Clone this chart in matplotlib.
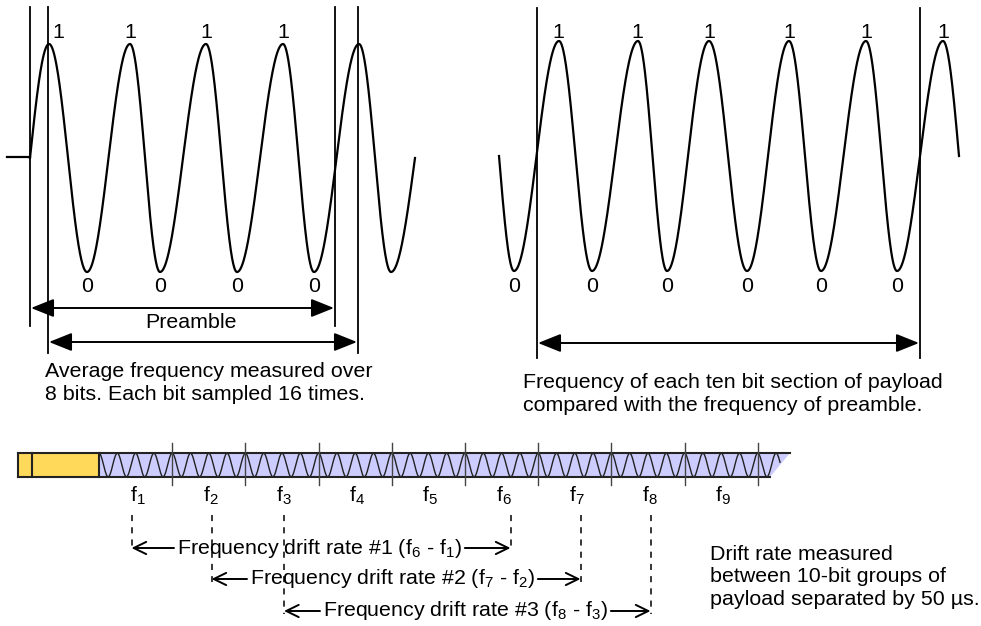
import numpy as np
import matplotlib
matplotlib.use("Agg")
import matplotlib.pyplot as plt
from matplotlib.patches import Polygon, Rectangle

plt.rcParams['font.family'] = ['Liberation Sans', 'DejaVu Sans']
plt.rcParams['mathtext.fontset'] = 'custom'
plt.rcParams['mathtext.rm'] = 'Liberation Sans'
plt.rcParams['mathtext.it'] = 'Liberation Sans:italic'

FS = 15.4

# ---------------- data (diagram anchors, pixel-like units) ----------------
# Preamble waveform (left)
left_peaks = [49, 130, 206, 283, 359]
left_troughs = [87, 160, 237, 314, 391]
left_span = [30, 415]
left_level = [158, 114]           # centre, amplitude
left_one_x = [58, 130, 206, 283]
left_zero_x = [87, 160, 237, 314]

# Payload waveform (right)
right_peaks = [559, 638, 709, 789, 866, 943]
right_troughs = [514, 592, 667, 747, 821, 897]
right_span = [499, 959]
right_level = [156, 115]
right_one_x = [558, 637, 709, 789, 866, 943]
right_zero_x = [514, 592, 667, 747, 821, 897]

# Packet bar
bar_labels = ['1', '2', '3', '4', '5', '6', '7', '8', '9']
bar_cycles_per_group = 4

# Drift-rate pairs (later group, earlier group) and their guide positions
drift_pairs = [(6, 1), (7, 2), (8, 3)]
drift_left_x = [131.5, 211.5, 284]
drift_right_x = [510.5, 580.5, 650.5]
drift_row_y = [548, 579, 611]

left_text = "Average frequency measured over\n8 bits. Each bit sampled 16 times."
right_text = "Frequency of each ten bit section of payload\ncompared with the frequency of preamble."
drift_note = "Drift rate measured\nbetween 10-bit groups of\npayload separated by 50 \u00b5s."

# ---------------- figure ----------------
fig = plt.figure(figsize=(9.81, 6.26), dpi=100)
ax = fig.add_axes([0, 0, 1, 1])
ax.set_xlim(0, 981)
ax.set_ylim(626, 0)
ax.axis('off')

LW = 1.6


def wave(peaks, troughs, span, level):
    ext = sorted([(p, 1) for p in peaks] + [(t, -1) for t in troughs])
    p0 = np.pi / 2 if ext[0][1] == 1 else -np.pi / 2
    xs = [span[0]] + [e[0] for e in ext] + [span[1]]
    ph = [p0 - np.pi / 2] + [p0 + k * np.pi for k in range(len(ext))] + \
         [p0 + (len(ext) - 1) * np.pi + np.pi / 2]
    x = np.linspace(span[0], span[1], 1500)
    phase = np.interp(x, xs, ph)
    return x, level[0] - level[1] * np.sin(phase)


# left waveform
x, y = wave(left_peaks, left_troughs, left_span, left_level)
ax.plot(x, y, color='black', lw=LW)
ax.plot([7, left_span[0]], [157, 157], color='black', lw=LW)
for xv, yb in [(30, 326), (48, 353), (335, 326), (358, 353)]:
    ax.plot([xv, xv], [7, yb], color='black', lw=1.3)
for xv in left_one_x:
    ax.text(xv, 32, '1', fontsize=FS, ha='center', va='center')
for xv in left_zero_x:
    ax.text(xv, 287, '0', fontsize=FS, ha='center', va='center')

big = dict(arrowstyle='<|-|>,head_length=0.7,head_width=0.28', color='black',
           lw=1.4, mutation_scale=20, shrinkA=0, shrinkB=0)
ax.annotate('', xy=(31, 308), xytext=(334, 308), arrowprops=big)
ax.annotate('', xy=(49, 342), xytext=(357, 342), arrowprops=big)
ax.text(191, 322, 'Preamble', fontsize=FS, ha='center', va='center')
ax.text(45, 383, left_text, fontsize=FS, ha='left', va='center', linespacing=1.25)

# right waveform
x, y = wave(right_peaks, right_troughs, right_span, right_level)
ax.plot(x, y, color='black', lw=LW)
for xv in (537, 920):
    ax.plot([xv, xv], [8, 358], color='black', lw=1.3)
for xv in right_one_x:
    ax.text(xv, 32, '1', fontsize=FS, ha='center', va='center')
for xv in right_zero_x:
    ax.text(xv, 287, '0', fontsize=FS, ha='center', va='center')
ax.annotate('', xy=(538, 343), xytext=(919, 343), arrowprops=big)
ax.text(523, 394, right_text, fontsize=FS, ha='left', va='center', linespacing=1.25)

# ---------------- packet bar ----------------
y_top, y_bot = 453, 477
x0, x_div, x_pay = 18, 32, 99
seg = 73.2
n = len(bar_labels)
ticks = [x_pay + seg * (i + 1) for i in range(n)]
x_end_top, x_end_bot = 790, 770

ax.add_patch(Rectangle((x0, y_top), x_pay - x0, y_bot - y_top,
                       facecolor='#FFD95A', edgecolor='none'))
ax.add_patch(Polygon([(x_pay, y_top), (x_end_top, y_top), (x_end_bot, y_bot), (x_pay, y_bot)],
                     closed=True, facecolor='#CCCCFF', edgecolor='none'))
wx = np.linspace(x_pay, 780, 3000)
wy = (y_top + y_bot) / 2 - (y_bot - y_top) / 2 * 0.98 * np.cos(
    2 * np.pi * bar_cycles_per_group * (wx - x_pay) / seg)
ax.plot(wx, wy, color='#222222', lw=1.0)
ax.plot([x0, x_end_top], [y_top, y_top], color='#222222', lw=1.5)
ax.plot([x0, x_end_bot], [y_bot, y_bot], color='#222222', lw=1.5)
for xv in (x0, x_div, x_pay):
    ax.plot([xv, xv], [y_top, y_bot], color='#222222', lw=1.5)
for xv in ticks:
    ax.plot([xv, xv], [443, 485], color='#444444', lw=1.0)
for i, lab in enumerate(bar_labels):
    cx = x_pay + seg * (i + 0.5)
    ax.text(cx + 2, 496, r'$\mathrm{f_{%s}}$' % lab, fontsize=FS, ha='center', va='center')

# ---------------- drift rate arrows ----------------
text_x = [177, 250, 323]
fig.canvas.draw()
renderer = fig.canvas.get_renderer()
inv = ax.transData.inverted()
small = dict(arrowstyle='->,head_length=0.45,head_width=0.22', color='black',
             lw=1.4, mutation_scale=20, shrinkA=0, shrinkB=0)
for k, ((late, early), yr, tx, xl, xr) in enumerate(
        zip(drift_pairs, drift_row_y, text_x, drift_left_x, drift_right_x)):
    ax.plot([xl, xl], [515, yr + 3], color='black', lw=1.1, dashes=(4, 4))
    ax.plot([xr, xr], [515, yr + 3], color='black', lw=1.1, dashes=(4, 4))
    t = ax.text(tx, yr, r'Frequency drift rate #%d ($\mathrm{f_{%d}}$ - $\mathrm{f_{%d}}$)' % (k + 1, late, early),
                fontsize=FS, ha='left', va='center')
    bb = t.get_window_extent(renderer)
    (bx0, _), (bx1, _) = inv.transform([(bb.x0, bb.y0), (bb.x1, bb.y1)])
    ax.annotate('', xy=(xl, yr), xytext=(bx0 - 3, yr), arrowprops=small)
    ax.annotate('', xy=(xr, yr), xytext=(bx1 + 3, yr), arrowprops=small)

ax.text(710, 577, drift_note, fontsize=FS, ha='left', va='center', linespacing=1.25)

fig.savefig('out.png', dpi=100)
